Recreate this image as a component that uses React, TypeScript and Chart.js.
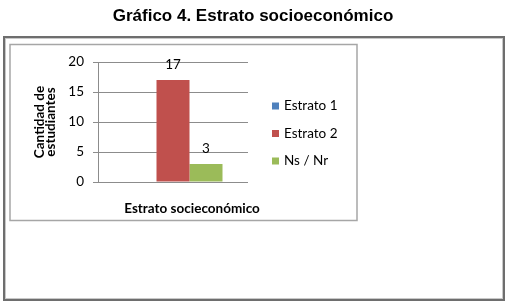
import React, { useEffect, useRef } from "react";
import { Chart, registerables } from "chart.js";

Chart.register(...registerables);

const chartTitle = "Gráfico 4. Estrato socioeconómico";
const categories = ["Estrato socieconómico"];
const seriesNames = ["Estrato 1", "Estrato 2", "Ns / Nr"];
const seriesValues = [[0], [17], [3]];
const seriesColors = ["#4F81BD", "#C0504D", "#9BBB59"];
const yTitleLines = ["Cantidad de", "estudiantes"];
const xTitle = "Estrato socieconómico";
const yMin = 0;
const yMax = 20;
const yStep = 5;

const FONT = "Lato, 'Open Sans', sans-serif";

const decorPlugin = {
  id: "decor",
  beforeDraw(chart: any) {
    const ctx = chart.ctx;
    ctx.save();
    ctx.fillStyle = "#ffffff";
    ctx.fillRect(0, 0, chart.width, chart.height);
    // title
    ctx.fillStyle = "#000000";
    ctx.font = "bold 17px 'Liberation Sans', Arial, sans-serif";
    ctx.textAlign = "center";
    ctx.textBaseline = "middle";
    ctx.fillText(chartTitle, 253, 16);
    // outer frame
    ctx.strokeStyle = "#6e6e6e";
    ctx.lineWidth = 2;
    ctx.strokeRect(4, 37, 500, 263);
    ctx.strokeStyle = "#c8c8c8";
    ctx.lineWidth = 1;
    ctx.strokeRect(5.5, 38.5, 497, 260);
    // inner chart frame
    ctx.strokeStyle = "#a6a6a6";
    ctx.lineWidth = 1.5;
    ctx.strokeRect(10, 44.5, 347, 176);
    ctx.restore();
  },
  afterDraw(chart: any) {
    const ctx = chart.ctx;
    const area = chart.chartArea;
    ctx.save();
    ctx.fillStyle = "#000000";
    ctx.font = "bold 13.5px " + FONT;
    ctx.textAlign = "center";
    ctx.textBaseline = "middle";
    // y title
    const cy = (area.top + area.bottom) / 2;
    ctx.save();
    ctx.translate(40, cy);
    ctx.rotate(-Math.PI / 2);
    ctx.fillText(yTitleLines[0], 0, 0);
    ctx.restore();
    ctx.save();
    ctx.translate(51, cy);
    ctx.rotate(-Math.PI / 2);
    ctx.fillText(yTitleLines[1], 0, 0);
    ctx.restore();
    // x title
    ctx.fillText(xTitle, 192, area.bottom + 27);
    // data labels
    ctx.font = "13.5px " + FONT;
    ctx.textBaseline = "alphabetic";
    chart.data.datasets.forEach((ds: any, i: number) => {
      const meta = chart.getDatasetMeta(i);
      meta.data.forEach((el: any, j: number) => {
        const v = ds.data[j];
        if (v > 0) {
          ctx.fillText(String(v), el.x, el.y - 11);
        }
      });
    });
    // legend
    ctx.textAlign = "left";
    ctx.textBaseline = "middle";
    const rowGap = 27.5;
    const ly0 = 106;
    chart.data.datasets.forEach((ds: any, i: number) => {
      const y = ly0 + i * rowGap;
      ctx.fillStyle = ds.backgroundColor;
      ctx.fillRect(272, y - 3.5, 7, 7);
      ctx.fillStyle = "#000000";
      ctx.fillText(ds.label, 284, y);
    });
    ctx.restore();
  },
};

export default function App() {
  const ref = useRef<HTMLCanvasElement | null>(null);
  useEffect(() => {
    if (!ref.current) return;
    const chart = new Chart(ref.current, {
      type: "bar",
      data: {
        labels: categories,
        datasets: seriesNames.map((name, i) => ({
          label: name,
          data: seriesValues[i],
          backgroundColor: seriesColors[i],
          borderWidth: 0,
          categoryPercentage: 0.66,
          barPercentage: 1,
        })),
      },
      options: {
        responsive: false,
        animation: false,
        devicePixelRatio: 1,
        layout: { padding: { left: 0, top: 62, right: 258, bottom: 121 } },
        plugins: {
          legend: { display: false },
          tooltip: { enabled: false },
          title: { display: false },
        },
        scales: {
          x: { display: false },
          y: {
            min: yMin,
            max: yMax,
            ticks: {
              stepSize: yStep,
              color: "#000000",
              font: { family: FONT, size: 13.5 },
              padding: 9,
            },
            grid: { color: "#8c8c8c", tickLength: 5, lineWidth: 1 },
            border: { display: true, color: "#8c8c8c", width: 1 },
            afterFit: (scale: any) => {
              scale.width = 98;
            },
          },
        },
      },
      plugins: [decorPlugin],
    });
    return () => chart.destroy();
  }, []);
  return (
    <div style={{ position: "absolute", left: 0, top: 0, width: 506, height: 303 }}>
      <canvas ref={ref} width={506} height={303} style={{ display: "block" }} />
    </div>
  );
}
